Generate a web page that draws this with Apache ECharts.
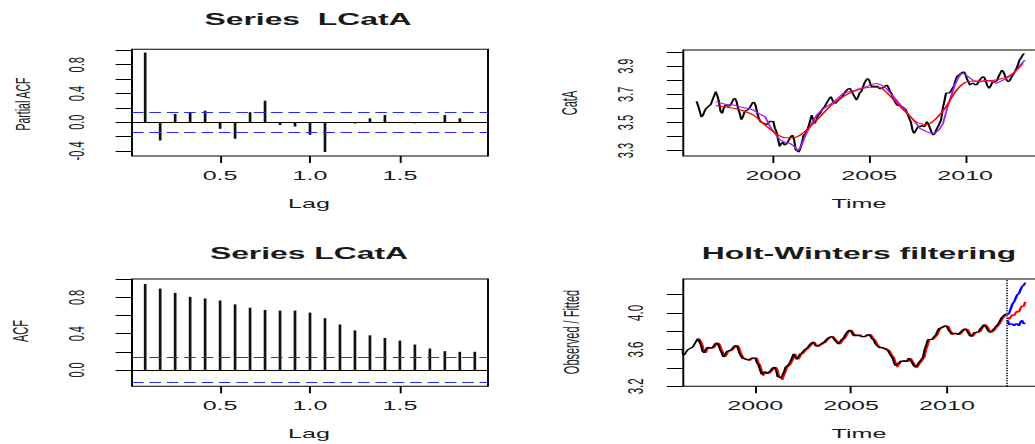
<!DOCTYPE html>
<html>
<head>
<meta charset="utf-8">
<script src="https://cdn.jsdelivr.net/npm/echarts@6/dist/echarts.min.js"></script>
<style>
  html, body { margin: 0; padding: 0; background: #fff; overflow: hidden; }
  /* the reference is an R plot stretched sideways, so the chart is drawn narrow and widened */
  #chart { width: 540px; height: 444px; transform: scaleX(1.931); transform-origin: 0 0; }
</style>
</head>
<body>
<div id="chart"></div>
<script>
// ---- data ----
const lags = [1,2,3,4,5,6,7,8,9,10,11,12,13,14,15,16,17,18,19,20,21,22,23].map(k => k / 12);
const pacfValues = [0.97, -0.254, 0.115, 0.139, 0.16, -0.092, -0.23, 0.139, 0.30, -0.04, -0.06, -0.175,
  -0.415, -0.005, -0.018, 0.055, 0.10, 0.005, -0.014, 0.003, 0.10, 0.055, -0.005];
const acfValues = [0.949, 0.898, 0.851, 0.807, 0.789, 0.767, 0.724, 0.687, 0.662, 0.655, 0.655, 0.633,
  0.571, 0.502, 0.436, 0.382, 0.353, 0.324, 0.28, 0.236, 0.207, 0.20, 0.20];
const confLimit = 0.137;

// monthly LCatA, Jan 1996 .. Feb 2013
const catAStart = 1996;
const catA = [
  3.65, 3.62, 3.58, 3.54, 3.55, 3.58, 3.60, 3.61, 3.62, 3.63, 3.66, 3.69,
  3.72, 3.69, 3.65, 3.58, 3.565, 3.60, 3.625, 3.62, 3.615, 3.62, 3.64, 3.665,
  3.672, 3.65, 3.60, 3.565, 3.52, 3.54, 3.575, 3.585, 3.59, 3.60, 3.62, 3.64,
  3.645, 3.62, 3.565, 3.53, 3.505, 3.50, 3.495, 3.49, 3.485, 3.50, 3.51, 3.505,
  3.51, 3.46, 3.435, 3.38, 3.33, 3.35, 3.36, 3.34, 3.345, 3.36, 3.38, 3.40,
  3.41, 3.38, 3.305, 3.30, 3.29, 3.32, 3.36, 3.41, 3.42, 3.44, 3.47, 3.51,
  3.553, 3.52, 3.494, 3.52, 3.55, 3.56, 3.58, 3.60, 3.61, 3.63, 3.65, 3.67,
  3.683, 3.66, 3.64, 3.636, 3.65, 3.66, 3.672, 3.68, 3.70, 3.718, 3.73, 3.74,
  3.742, 3.72, 3.70, 3.68, 3.66, 3.68, 3.71, 3.72, 3.75, 3.78, 3.80, 3.813,
  3.80, 3.766, 3.75, 3.76, 3.75, 3.76, 3.745, 3.74, 3.742, 3.75, 3.76, 3.766,
  3.75, 3.72, 3.707, 3.67, 3.648, 3.63, 3.62, 3.625, 3.615, 3.61, 3.60, 3.59,
  3.56, 3.53, 3.506, 3.45, 3.423, 3.44, 3.46, 3.475, 3.47, 3.48, 3.47, 3.475,
  3.506, 3.49, 3.46, 3.43, 3.411, 3.42, 3.45, 3.47, 3.494, 3.52, 3.60, 3.65,
  3.707, 3.71, 3.71, 3.72, 3.742, 3.76, 3.80, 3.83, 3.837, 3.845, 3.855, 3.86,
  3.85, 3.813, 3.79, 3.766, 3.775, 3.78, 3.77, 3.766, 3.78, 3.80, 3.815, 3.825,
  3.82, 3.79, 3.76, 3.742, 3.76, 3.785, 3.79, 3.79, 3.80, 3.83, 3.85, 3.872,
  3.86, 3.83, 3.80, 3.789, 3.80, 3.82, 3.84, 3.86, 3.88, 3.91, 3.943, 3.96,
  3.979, 3.99
];

// smooth trend (red) and short moving average (purple), [time, value]
const trendRed = [
  [1997.0, 3.62], [1997.5, 3.61], [1998.0, 3.60], [1998.5, 3.58], [1999.0, 3.55], [1999.5, 3.49],
  [2000.0, 3.435], [2000.5, 3.395], [2001.0, 3.39], [2001.5, 3.42], [2002.0, 3.48], [2002.5, 3.55],
  [2003.0, 3.62], [2003.5, 3.67], [2004.0, 3.71], [2004.5, 3.735], [2005.0, 3.75], [2005.5, 3.75],
  [2006.0, 3.70], [2006.5, 3.63], [2007.0, 3.56], [2007.5, 3.50], [2008.0, 3.485], [2008.5, 3.53],
  [2009.0, 3.61], [2009.5, 3.72], [2010.0, 3.785], [2010.5, 3.795], [2011.0, 3.795], [2011.5, 3.80],
  [2012.0, 3.815], [2012.5, 3.85], [2013.0, 3.92]
];
const avgPurple = [
  [1997.0, 3.648], [1997.5, 3.63], [1997.92, 3.624], [1998.3, 3.61], [1998.7, 3.60], [1999.0, 3.585],
  [1999.22, 3.565], [1999.57, 3.541], [1999.83, 3.47], [2000.1, 3.42], [2000.35, 3.376], [2000.6, 3.36],
  [2000.87, 3.352], [2001.1, 3.33], [2001.3, 3.30], [2001.45, 3.33], [2001.65, 3.40], [2002.0, 3.494],
  [2002.25, 3.55], [2002.52, 3.589], [2003.04, 3.636], [2003.35, 3.67], [2003.65, 3.707], [2004.0, 3.72],
  [2004.26, 3.73], [2004.6, 3.745], [2004.86, 3.754], [2005.1, 3.77], [2005.38, 3.778], [2005.65, 3.765],
  [2005.9, 3.742], [2006.1, 3.71], [2006.34, 3.672], [2006.6, 3.63], [2006.86, 3.589], [2007.1, 3.55],
  [2007.38, 3.506], [2007.64, 3.459], [2007.99, 3.435], [2008.2, 3.425], [2008.42, 3.423], [2008.65, 3.45],
  [2008.85, 3.494], [2009.11, 3.624], [2009.3, 3.70], [2009.46, 3.766], [2009.65, 3.82], [2009.81, 3.849],
  [2009.95, 3.845], [2010.16, 3.825], [2010.4, 3.80], [2010.59, 3.789], [2010.85, 3.79], [2011.11, 3.80],
  [2011.4, 3.79], [2011.63, 3.778], [2011.9, 3.795], [2012.16, 3.813], [2012.45, 3.84], [2012.68, 3.872],
  [2012.9, 3.91], [2013.11, 3.943]
];

// Holt-Winters fitted, Jan 1997 .. Feb 2013
const hwStart = 1997;
const hwFitted = [
  3.69, 3.72, 3.69, 3.65, 3.58, 3.565, 3.60, 3.625, 3.62, 3.615, 3.62, 3.64,
  3.665, 3.672, 3.65, 3.60, 3.565, 3.52, 3.54, 3.575, 3.585, 3.59, 3.60, 3.62,
  3.64, 3.645, 3.62, 3.565, 3.53, 3.505, 3.50, 3.495, 3.49, 3.485, 3.50, 3.51,
  3.505, 3.51, 3.46, 3.435, 3.38, 3.315, 3.35, 3.36, 3.34, 3.345, 3.36, 3.38,
  3.40, 3.41, 3.38, 3.305, 3.30, 3.27, 3.32, 3.36, 3.41, 3.42, 3.44, 3.47,
  3.51, 3.553, 3.52, 3.494, 3.52, 3.55, 3.56, 3.58, 3.60, 3.61, 3.63, 3.65,
  3.67, 3.683, 3.66, 3.64, 3.636, 3.65, 3.66, 3.672, 3.68, 3.70, 3.718, 3.73,
  3.74, 3.742, 3.72, 3.70, 3.68, 3.66, 3.68, 3.71, 3.72, 3.75, 3.78, 3.80,
  3.813, 3.80, 3.766, 3.75, 3.76, 3.75, 3.76, 3.745, 3.74, 3.742, 3.75, 3.76,
  3.766, 3.75, 3.72, 3.707, 3.67, 3.648, 3.63, 3.62, 3.625, 3.615, 3.61, 3.60,
  3.59, 3.56, 3.53, 3.506, 3.45, 3.41, 3.44, 3.46, 3.475, 3.47, 3.48, 3.47,
  3.475, 3.506, 3.49, 3.46, 3.43, 3.40, 3.42, 3.45, 3.47, 3.494, 3.52, 3.60,
  3.65, 3.707, 3.71, 3.71, 3.72, 3.742, 3.76, 3.80, 3.83, 3.837, 3.845, 3.855,
  3.86, 3.85, 3.813, 3.79, 3.766, 3.775, 3.78, 3.77, 3.766, 3.78, 3.80, 3.815,
  3.825, 3.82, 3.79, 3.76, 3.742, 3.76, 3.785, 3.79, 3.79, 3.80, 3.83, 3.85,
  3.872, 3.86, 3.83, 3.80, 3.789, 3.80, 3.82, 3.84, 3.86, 3.88, 3.91, 3.943,
  3.96, 3.979
];

// 12-month forecast from Mar 2013
const fcStart = 2013 + 2 / 12;
const fcMean = [3.95, 3.93, 3.96, 3.98, 3.97, 4.00, 4.02, 4.01, 4.05, 4.08, 4.07, 4.12];
const fcUpper = [3.98, 4.00, 4.05, 4.10, 4.12, 4.16, 4.20, 4.21, 4.25, 4.29, 4.30, 4.33];
const fcLower = [3.92, 3.87, 3.88, 3.88, 3.86, 3.88, 3.88, 3.86, 3.90, 3.92, 3.88, 3.89];
const dataEnd = 2013.12;

// ticks and labels
const lagTicks = [0.5, 1.0, 1.5];
const pacfTicks = [-0.4, -0.2, 0.0, 0.2, 0.4, 0.6, 0.8, 1.0];
const pacfLabels = [-0.4, 0.0, 0.4, 0.8];
const acfTicks = [0.0, 0.2, 0.4, 0.6, 0.8, 1.0];
const acfLabels = [0.0, 0.4, 0.8];
const yearTicks = [2000, 2005, 2010];
const catTicks = [3.3, 3.4, 3.5, 3.6, 3.7, 3.8, 3.9, 4.0];
const catLabels = [3.3, 3.5, 3.7, 3.9];
const hwTicks = [3.2, 3.4, 3.6, 3.8, 4.0, 4.2];
const hwLabels = [3.2, 3.6, 4.0];

// ---- chart ----
const S = 1.931;              // horizontal stretch of the picture
const FONT = "'Liberation Sans', Arial, Helvetica, sans-serif";
const INK = '#1a1a1a';

const monthly = (start, vals) => vals.map((v, i) => [start + i / 12, v]);

function grid(left, top, width, height) {
  return { left: left / S, top: top, width: width / S, height: height, show: true,
    borderColor: '#000', borderWidth: 1, backgroundColor: 'transparent', containLabel: false };
}

function xAxisOf(gi, min, max, ticks, fmt) {
  return {
    gridIndex: gi, type: 'value', min: min, max: max,
    axisLine: { show: false, onZero: false }, splitLine: { show: false },
    axisTick: { show: true, customValues: ticks, length: 7, lineStyle: { color: '#000', width: 1 } },
    axisLabel: { show: true, customValues: ticks, formatter: fmt, margin: 13,
      fontSize: 13, fontFamily: FONT, color: INK }
  };
}

function yAxisOf(gi, min, max, ticks, labels, margin, size) {
  return {
    gridIndex: gi, type: 'value', min: min, max: max,
    axisLine: { show: false, onZero: false }, splitLine: { show: false },
    axisTick: { show: true, customValues: ticks, length: 8.5, lineStyle: { color: '#000', width: 1 } },
    axisLabel: { show: true, customValues: labels, rotate: 90, margin: margin,
      formatter: v => v.toFixed(1), fontSize: size, fontFamily: FONT, color: INK }
  };
}

function limitLines() {
  const dash = { type: [6, 3], color: '#2828ff', width: 1 };
  return {
    symbol: 'none', silent: true, animation: false, label: { show: false },
    data: [
      { yAxis: 0, lineStyle: { type: 'solid', color: '#000', width: 1 } },
      { yAxis: confLimit, lineStyle: dash },
      { yAxis: -confLimit, lineStyle: dash }
    ]
  };
}

function line(xi, data, color, width, extra) {
  return Object.assign({
    type: 'line', xAxisIndex: xi, yAxisIndex: xi, data: data, showSymbol: false,
    symbol: 'none', lineStyle: { color: color, width: width }, silent: true, z: 2
  }, extra || {});
}

function label(text, x, y, size, opts) {
  opts = opts || {};
  return {
    type: 'text', x: x / S, y: y, rotation: opts.rot || 0, silent: true,
    style: { text: text, fill: INK, align: 'center', verticalAlign: 'middle',
      font: (opts.bold ? 'bold ' : '') + size + 'px ' + FONT }
  };
}

const chart = echarts.init(document.getElementById('chart'), null, { renderer: 'svg' });

chart.setOption({
  animation: false,
  backgroundColor: '#fff',
  grid: [
    grid(132, 49.3, 356, 106.7),
    grid(683.3, 50, 355.7, 106),
    grid(132, 279, 356, 107.3),
    grid(683.3, 279, 355.7, 107.3)
  ],
  xAxis: [
    xAxisOf(0, 0.01, 1.99, lagTicks, v => v.toFixed(1)),
    xAxisOf(1, 1995.31, 2013.85, yearTicks, v => String(v)),
    xAxisOf(2, 0.01, 1.99, lagTicks, v => v.toFixed(1)),
    xAxisOf(3, 1996.25, 2014.8, yearTicks, v => String(v))
  ],
  yAxis: [
    yAxisOf(0, -0.47, 1.015, pacfTicks, pacfLabels, 23, 11),
    yAxisOf(1, 3.262, 4.015, catTicks, catLabels, 24, 11),
    yAxisOf(2, -0.181, 1.004, acfTicks, acfLabels, 23, 11),
    yAxisOf(3, 3.2, 4.37, hwTicks, hwLabels, 19, 11.5)
  ],
  series: [
    { type: 'bar', xAxisIndex: 0, yAxisIndex: 0, barWidth: 1.4, silent: true,
      data: lags.map((l, i) => [l, pacfValues[i]]), itemStyle: { color: '#111' },
      markLine: limitLines() },
    { type: 'bar', xAxisIndex: 2, yAxisIndex: 2, barWidth: 1.4, silent: true,
      data: lags.map((l, i) => [l, acfValues[i]]), itemStyle: { color: '#111' },
      markLine: limitLines() },

    line(1, monthly(catAStart, catA), '#000', 1.1),
    line(1, avgPurple, '#a020f0', 1, { z: 3 }),
    line(1, trendRed, '#ff0000', 1, { z: 4, smooth: 0.3 }),

    line(3, monthly(hwStart, hwFitted), '#ff0000', 1.1, { z: 2 }),
    line(3, monthly(catAStart, catA), '#000', 1.1, { z: 3,
      markLine: { symbol: 'none', silent: true, animation: false, label: { show: false },
        data: [{ xAxis: dataEnd, lineStyle: { type: [1, 1.5], color: '#000', width: 1 } }] } }),
    line(3, monthly(fcStart, fcMean), '#ff0000', 1.3, { z: 4 }),
    line(3, monthly(fcStart, fcUpper), '#0000ff', 1.3, { z: 4 }),
    line(3, monthly(fcStart, fcLower), '#0000ff', 1.3, { z: 4 })
  ],
  graphic: [
    label('Series  LCatA', 308, 18.7, 16.5, { bold: true }),
    label('Series LCatA', 309, 253, 16.5, { bold: true }),
    label('Holt-Winters filtering', 859, 253, 16.5, { bold: true }),
    label('Lag', 309, 203.5, 13),
    label('Lag', 309, 433, 13),
    label('Time', 859, 203.5, 13),
    label('Time', 859, 433, 13),
    label('Partial ACF', 22, 104, 10.5, { rot: Math.PI / 2 }),
    label('ACF', 21, 331, 11, { rot: Math.PI / 2 }),
    label('CatA', 570, 103, 11, { rot: Math.PI / 2 }),
    label('Observed / Fitted', 572, 332, 11, { rot: Math.PI / 2 })
  ]
});
</script>
</body>
</html>
